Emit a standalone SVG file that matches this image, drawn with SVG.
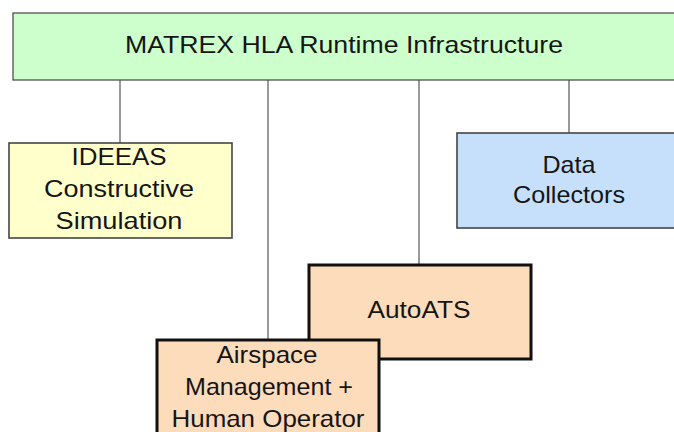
<svg xmlns="http://www.w3.org/2000/svg" width="674" height="432" viewBox="0 0 674 432">
<style>
text{font-family:"Liberation Sans",Arial,sans-serif;font-size:24px;fill:#151515;text-anchor:middle}
.c{stroke:#555;stroke-width:1.2;fill:none}
.thin{stroke:#444;stroke-width:1.2}
.mid{stroke:#444;stroke-width:1.6}
.thick{stroke:#111;stroke-width:3}
</style>
<rect width="674" height="432" fill="#fff"/>
<g id="connectors">
<line class="c" x1="120" y1="80" x2="120" y2="143"/>
<line class="c" x1="268" y1="80" x2="268" y2="340"/>
<line class="c" x1="419" y1="80" x2="419" y2="264"/>
<line class="c" x1="569" y1="80" x2="569" y2="133"/>
</g>
<g id="rti">
<rect class="thin" x="13" y="13" width="670" height="67" fill="#ccffcc"/>
<text x="344" y="53" textLength="438" lengthAdjust="spacingAndGlyphs">MATREX HLA Runtime Infrastructure</text>
</g>
<g id="ideeas">
<rect class="mid" x="9" y="143" width="223" height="95" fill="#ffffcc"/>
<text x="119" y="165" textLength="95" lengthAdjust="spacingAndGlyphs">IDEEAS</text>
<text x="119" y="197" textLength="150" lengthAdjust="spacingAndGlyphs">Constructive</text>
<text x="119" y="229" textLength="127" lengthAdjust="spacingAndGlyphs">Simulation</text>
</g>
<g id="collectors">
<rect class="mid" x="457" y="133" width="230" height="95" fill="#c6e0fc"/>
<text x="569" y="173" textLength="53" lengthAdjust="spacingAndGlyphs">Data</text>
<text x="569" y="203" textLength="112" lengthAdjust="spacingAndGlyphs">Collectors</text>
</g>
<g id="autoats">
<rect class="thick" x="309" y="265" width="222" height="94" fill="#fddcbc"/>
<text x="419" y="318" textLength="103" lengthAdjust="spacingAndGlyphs">AutoATS</text>
</g>
<g id="airspace">
<rect class="thick" x="157" y="340" width="222" height="100" fill="#fddcbc"/>
<text x="267" y="363" textLength="101" lengthAdjust="spacingAndGlyphs">Airspace</text>
<text x="269" y="395" textLength="168" lengthAdjust="spacingAndGlyphs">Management +</text>
<text x="268" y="427" textLength="193" lengthAdjust="spacingAndGlyphs">Human Operator</text>
</g>
</svg>
